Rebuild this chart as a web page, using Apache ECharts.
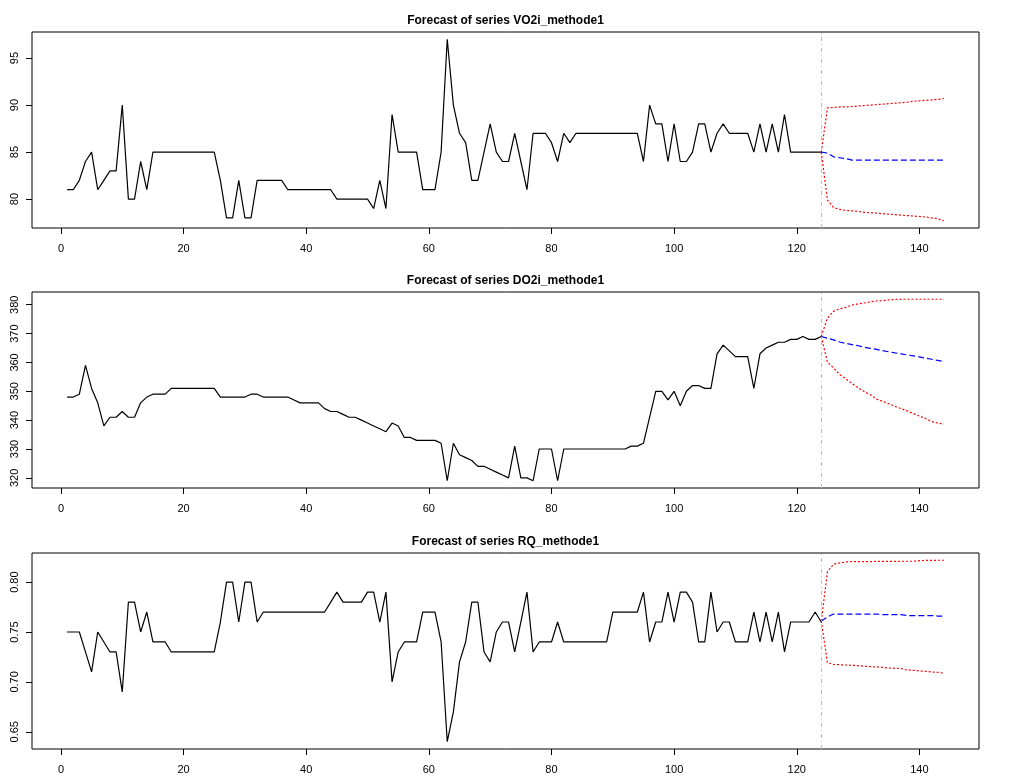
<!DOCTYPE html>
<html>
<head>
<meta charset="utf-8">
<title>Forecasts</title>
<script src="https://cdn.jsdelivr.net/npm/echarts@6/dist/echarts.min.js"></script>
<style>
  html, body { margin: 0; padding: 0; background: #fff; }
  #chart { width: 1011px; height: 781px; }
</style>
</head>
<body>
<div id="chart"></div>
<script>
// observed series, t = 1..124
var vo2Obs = [
  81,81,82,84,85,81,82,83,83,90,
  80,80,84,81,85,85,85,85,85,85,
  85,85,85,85,85,82,78,78,82,78,
  78,82,82,82,82,82,81,81,81,81,
  81,81,81,81,80,80,80,80,80,80,
  79,82,79,89,85,85,85,85,81,81,
  81,85,97,90,87,86,82,82,85,88,
  85,84,84,87,84,81,87,87,87,86,
  84,87,86,87,87,87,87,87,87,87,
  87,87,87,87,84,90,88,88,84,88,
  84,84,85,88,88,85,87,88,87,87,
  87,87,85,88,85,88,85,89,85,85,
  85,85,85,85
];
var do2Obs = [
  348,348,349,359,351,346,338,341,341,343,
  341,341,346,348,349,349,349,351,351,351,
  351,351,351,351,351,348,348,348,348,348,
  349,349,348,348,348,348,348,347,346,346,
  346,346,344,343,343,342,341,341,340,339,
  338,337,336,339,338,334,334,333,333,333,
  333,332,319,332,328,327,326,324,324,323,
  322,321,320,331,320,320,319,330,330,330,
  319,330,330,330,330,330,330,330,330,330,
  330,330,331,331,332,341,350,350,347,350,
  345,350,352,352,351,351,363,366,364,362,
  362,362,351,363,365,366,367,367,368,368,
  369,368,368,369
];
var rqObs = [
  0.75,0.75,0.75,0.73,0.71,0.75,0.74,0.73,0.73,0.69,
  0.78,0.78,0.75,0.77,0.74,0.74,0.74,0.73,0.73,0.73,
  0.73,0.73,0.73,0.73,0.73,0.76,0.80,0.80,0.76,0.80,
  0.80,0.76,0.77,0.77,0.77,0.77,0.77,0.77,0.77,0.77,
  0.77,0.77,0.77,0.78,0.79,0.78,0.78,0.78,0.78,0.79,
  0.79,0.76,0.79,0.70,0.73,0.74,0.74,0.74,0.77,0.77,
  0.77,0.74,0.64,0.67,0.72,0.74,0.78,0.78,0.73,0.72,
  0.75,0.76,0.76,0.73,0.76,0.79,0.73,0.74,0.74,0.74,
  0.76,0.74,0.74,0.74,0.74,0.74,0.74,0.74,0.74,0.77,
  0.77,0.77,0.77,0.77,0.79,0.74,0.76,0.76,0.79,0.76,
  0.79,0.79,0.78,0.74,0.74,0.79,0.75,0.76,0.76,0.74,
  0.74,0.74,0.77,0.74,0.77,0.74,0.77,0.73,0.76,0.76,
  0.76,0.76,0.77,0.76
];

// forecasts, t = 124..144 (first point = last observation)
var vo2Mean = [85,84.9,84.5,84.4,84.3,84.15,84.15,84.15,84.15,84.15,84.15,84.15,84.15,84.15,84.15,84.15,84.15,84.15,84.15,84.15,84.15];
var vo2Hi   = [85,89.7,89.75,89.8,89.8,89.85,89.9,89.95,90.0,90.05,90.1,90.15,90.2,90.25,90.3,90.4,90.45,90.5,90.55,90.6,90.7];
var vo2Lo   = [85,79.9,79.1,78.9,78.8,78.75,78.7,78.6,78.55,78.5,78.45,78.4,78.35,78.3,78.25,78.2,78.15,78.1,78.0,77.9,77.7];

var do2Mean = [369,368.4,367.8,367.1,366.6,366.2,365.8,365.3,364.9,364.5,364.1,363.7,363.3,363.0,362.6,362.3,361.9,361.5,361.1,360.7,360.3];
var do2Hi   = [369,375.4,377.7,378.6,379.1,379.9,380.3,380.6,381.0,381.3,381.4,381.7,381.8,381.9,381.9,381.9,381.9,381.9,381.9,381.9,381.9];
var do2Lo   = [369,360.1,358.1,355.8,354.3,352.7,351.2,349.9,348.8,347.3,346.5,345.7,344.8,344.0,343.2,342.3,341.4,340.6,339.5,339.0,338.6];

var rqMean = [0.761,0.765,0.768,0.768,0.768,0.768,0.768,0.768,0.768,0.768,0.7675,0.7675,0.7675,0.7675,0.7665,0.7665,0.7665,0.7665,0.7665,0.766,0.766];
var rqHi   = [0.761,0.8103,0.8179,0.8192,0.8202,0.8205,0.8205,0.8206,0.8206,0.8207,0.8207,0.8208,0.8208,0.8209,0.8209,0.8209,0.8215,0.8217,0.8218,0.8219,0.8219];
var rqLo   = [0.761,0.7192,0.7175,0.7172,0.7169,0.7166,0.7163,0.7156,0.7153,0.715,0.7146,0.7139,0.7136,0.7133,0.7119,0.7116,0.7109,0.7106,0.7099,0.7096,0.7086];

var titles = ['Forecast of series VO2i_methode1', 'Forecast of series DO2i_methode1', 'Forecast of series RQ_methode1'];
var xTicks = [0, 20, 40, 60, 80, 100, 120, 140];
var vo2Ticks = [80, 85, 90, 95];
var do2Ticks = [320, 330, 340, 350, 360, 370, 380];
var rqTicks = [0.65, 0.70, 0.75, 0.80];

var panels = [
  { obs: vo2Obs, mean: vo2Mean, hi: vo2Hi, lo: vo2Lo, ticks: vo2Ticks, dec: 0 },
  { obs: do2Obs, mean: do2Mean, hi: do2Hi, lo: do2Lo, ticks: do2Ticks, dec: 0 },
  { obs: rqObs, mean: rqMean, hi: rqHi, lo: rqLo, ticks: rqTicks, dec: 2 }
];

var FONT = "'Liberation Sans', Arial, sans-serif";
var gridTops = [32, 292, 553];
var titleTops = [10, 270, 531];

function pairs(vals, start) {
  return vals.map(function (v, i) { return [start + i, v]; });
}

// R style 4% extension on both ends
function padRange(lo, hi) {
  var d = (hi - lo) * 0.04;
  return [lo - d, hi + d];
}

var nObs = vo2Obs.length;
var nTot = nObs + vo2Mean.length - 1;
var xr = padRange(1, nTot);

var option = {
  animation: false,
  backgroundColor: '#fff',
  title: [], grid: [], xAxis: [], yAxis: [], series: []
};

panels.forEach(function (p, k) {
  var all = p.obs.concat(p.hi, p.lo);
  var yr = padRange(Math.min.apply(null, all), Math.max.apply(null, all));

  option.title.push({
    text: titles[k], left: 'center', top: titleTops[k],
    textStyle: { fontFamily: FONT, fontSize: 12, fontWeight: 'bold', color: '#000' }
  });
  option.grid.push({
    left: 32, right: 32, top: gridTops[k], height: 196,
    show: true, borderColor: '#000', borderWidth: 1, backgroundColor: 'transparent'
  });
  option.xAxis.push({
    type: 'value', gridIndex: k, min: xr[0], max: xr[1],
    axisLine: { show: false, onZero: false },
    splitLine: { show: false },
    axisTick: { show: true, length: 6, customValues: xTicks, lineStyle: { color: '#000' } },
    axisLabel: { customValues: xTicks, margin: 15, color: '#000', fontFamily: FONT, fontSize: 11 }
  });
  option.yAxis.push({
    type: 'value', gridIndex: k, min: yr[0], max: yr[1],
    axisLine: { show: false, onZero: false },
    splitLine: { show: false },
    axisTick: { show: true, length: 6, customValues: p.ticks, lineStyle: { color: '#000' } },
    axisLabel: {
      customValues: p.ticks, rotate: 90, margin: 12, color: '#000', fontFamily: FONT, fontSize: 11,
      formatter: (function (dec) { return function (v) { return v.toFixed(dec); }; })(p.dec)
    }
  });

  option.series.push({
    type: 'line', xAxisIndex: k, yAxisIndex: k, data: pairs(p.obs, 1),
    showSymbol: false, lineStyle: { color: '#000', width: 1.2 },
    markLine: {
      silent: true, symbol: ['none', 'none'], label: { show: false },
      lineStyle: { color: '#bebebe', width: 1, type: [4, 3, 1, 3] },
      data: [{ xAxis: nObs }]
    }
  });
  option.series.push({
    type: 'line', xAxisIndex: k, yAxisIndex: k, data: pairs(p.hi, nObs),
    showSymbol: false, lineStyle: { color: '#ff0000', width: 1.2, type: [2, 2] }
  });
  option.series.push({
    type: 'line', xAxisIndex: k, yAxisIndex: k, data: pairs(p.lo, nObs),
    showSymbol: false, lineStyle: { color: '#ff0000', width: 1.2, type: [2, 2] }
  });
  option.series.push({
    type: 'line', xAxisIndex: k, yAxisIndex: k, data: pairs(p.mean, nObs),
    showSymbol: false, lineStyle: { color: '#0000ff', width: 1.2, type: [6, 3] }
  });
});

var chart = echarts.init(document.getElementById('chart'));
chart.setOption(option);
</script>
</body>
</html>
